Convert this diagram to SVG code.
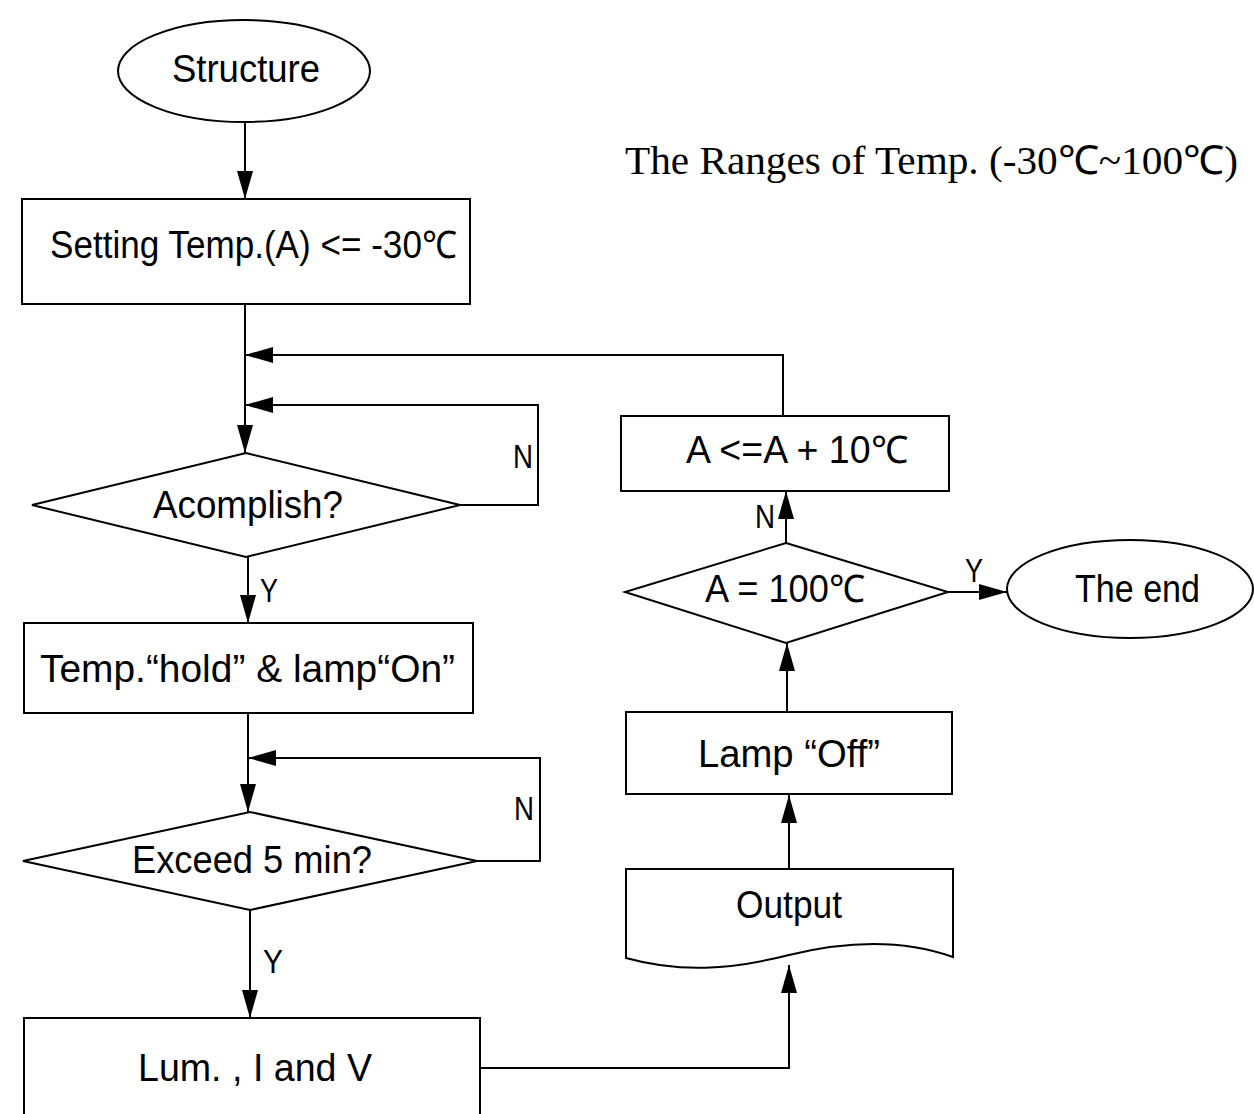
<svg xmlns="http://www.w3.org/2000/svg" width="1254" height="1114" viewBox="0 0 1254 1114">
<defs>
<style>
.s{fill:#fff;stroke:#000;stroke-width:2}
.c{fill:none;stroke:#000;stroke-width:2}
.t{font-family:"Liberation Sans",Arial,sans-serif;font-size:38px;fill:#000}
.l{font-family:"Liberation Sans",Arial,sans-serif;font-size:33px;fill:#000}
.ti{font-family:"Liberation Serif","Times New Roman",serif;font-size:40px;fill:#000}
</style>
<marker id="ah" markerUnits="userSpaceOnUse" markerWidth="28" markerHeight="16" refX="28" refY="8" orient="auto">
<path d="M0,0 L28,8 L0,16 z" fill="#000"/>
</marker>
</defs>
<rect width="1254" height="1114" fill="#fff"/>
<g id="connectors">
<path class="c" d="M245,122 V199" marker-end="url(#ah)"/>
<path class="c" d="M245,304 V453" marker-end="url(#ah)"/>
<path class="c" d="M783,416 V355 H245" marker-end="url(#ah)"/>
<path class="c" d="M460,505 H538 V405 H245" marker-end="url(#ah)"/>
<path class="c" d="M248,557 V623" marker-end="url(#ah)"/>
<path class="c" d="M248,713 V812" marker-end="url(#ah)"/>
<path class="c" d="M477,861 H540 V758 H248" marker-end="url(#ah)"/>
<path class="c" d="M250,910 V1018" marker-end="url(#ah)"/>
<path class="c" d="M480,1068 H789 V965" marker-end="url(#ah)"/>
<path class="c" d="M789,869 V795" marker-end="url(#ah)"/>
<path class="c" d="M787,712 V643" marker-end="url(#ah)"/>
<path class="c" d="M786,543 V491" marker-end="url(#ah)"/>
<path class="c" d="M948,592 H1007" marker-end="url(#ah)"/>
<text class="l" x="513" y="468" textLength="20" lengthAdjust="spacingAndGlyphs">N</text>
<text class="l" x="260" y="602" textLength="18" lengthAdjust="spacingAndGlyphs">Y</text>
<text class="l" x="514" y="820" textLength="20" lengthAdjust="spacingAndGlyphs">N</text>
<text class="l" x="263" y="973" textLength="20" lengthAdjust="spacingAndGlyphs">Y</text>
<text class="l" x="755" y="528" textLength="20" lengthAdjust="spacingAndGlyphs">N</text>
<text class="l" x="965" y="582" textLength="18" lengthAdjust="spacingAndGlyphs">Y</text>
</g>
<g id="title">
<text class="ti" x="625" y="174" textLength="613" lengthAdjust="spacingAndGlyphs">The Ranges of Temp. (-30℃~100℃)</text>
</g>
<g id="structure">
<ellipse class="s" cx="244" cy="71" rx="126" ry="51"/>
<text class="t" x="172" y="82" textLength="148" lengthAdjust="spacingAndGlyphs">Structure</text>
</g>
<g id="setting">
<rect class="s" x="22" y="199" width="448" height="105"/>
<text class="t" x="50" y="258" textLength="407" lengthAdjust="spacingAndGlyphs">Setting Temp.(A) &lt;= -30℃</text>
</g>
<g id="accomplish">
<polygon class="s" points="246,453 460,505 246,557 32,505"/>
<text class="t" x="153" y="518" textLength="190" lengthAdjust="spacingAndGlyphs">Acomplish?</text>
</g>
<g id="hold">
<rect class="s" x="24" y="623" width="449" height="90"/>
<text class="t" x="40" y="682" textLength="415" lengthAdjust="spacingAndGlyphs">Temp.“hold” &amp; lamp“On”</text>
</g>
<g id="exceed">
<polygon class="s" points="250,812 477,861 250,910 23,861"/>
<text class="t" x="132" y="873" textLength="240" lengthAdjust="spacingAndGlyphs">Exceed 5 min?</text>
</g>
<g id="measure">
<rect class="s" x="24" y="1018" width="456" height="120"/>
<text class="t" x="138" y="1081" textLength="234" lengthAdjust="spacingAndGlyphs">Lum. , I and V</text>
</g>
<g id="output">
<path class="s" d="M626,869 H953 V957 C905,940 850,940 789,955 C730,970 680,973 626,958 Z"/>
<text class="t" x="736" y="918" textLength="106" lengthAdjust="spacingAndGlyphs">Output</text>
</g>
<g id="lampoff">
<rect class="s" x="626" y="712" width="326" height="82"/>
<text class="t" x="698" y="767" textLength="182" lengthAdjust="spacingAndGlyphs">Lamp “Off”</text>
</g>
<g id="check100">
<polygon class="s" points="786,543 948,592 786,643 625,592"/>
<text class="t" x="705" y="602" textLength="160" lengthAdjust="spacingAndGlyphs">A = 100℃</text>
</g>
<g id="increment">
<rect class="s" x="621" y="416" width="328" height="75"/>
<text class="t" x="686" y="463" textLength="222" lengthAdjust="spacingAndGlyphs">A &lt;=A + 10℃</text>
</g>
<g id="end">
<ellipse class="s" cx="1130" cy="589" rx="123" ry="49"/>
<text class="t" x="1075" y="602" textLength="125" lengthAdjust="spacingAndGlyphs">The end</text>
</g>
</svg>
